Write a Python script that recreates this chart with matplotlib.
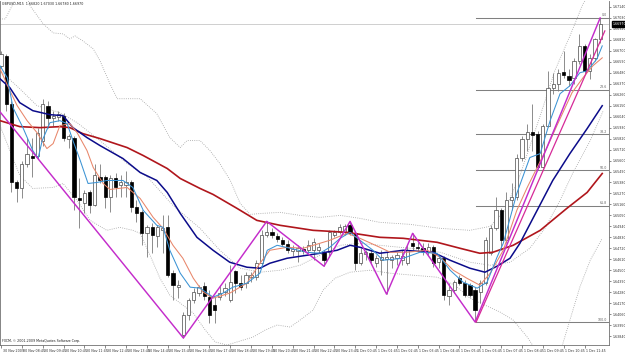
import matplotlib
matplotlib.use("Agg")
import matplotlib.pyplot as plt
import matplotlib.transforms as mtransforms
import numpy as np

# GBPUSD M15 candles
OPEN = [
    1.6655, 1.6665, 1.6617, 1.6538, 1.6532, 1.6557, 1.6565, 1.6565, 1.6580, 1.6615,
    1.6603, 1.6604, 1.6605, 1.6582, 1.6583, 1.6522, 1.6517, 1.6528, 1.6515, 1.6543,
    1.6543, 1.6523, 1.6542, 1.6535, 1.6535, 1.6538, 1.6513, 1.6508, 1.6487, 1.6493,
    1.6484, 1.6490, 1.6493, 1.6447, 1.6433, 1.6385, 1.6405, 1.6420, 1.6427, 1.6434,
    1.6423, 1.6415, 1.6423, 1.6428, 1.6420, 1.6449, 1.6437, 1.6437, 1.6443, 1.6443,
    1.6457, 1.6485, 1.6488, 1.6484, 1.6480, 1.6476, 1.6469, 1.6469, 1.6471, 1.6470,
    1.6470, 1.6470, 1.6468, 1.6468, 1.6485, 1.6488, 1.6488, 1.6495, 1.6487, 1.6457,
    1.6466, 1.6467, 1.6457, 1.6460, 1.6461, 1.6460, 1.6462, 1.6460, 1.6457, 1.6477,
    1.6473, 1.6472, 1.6468, 1.6473, 1.6458, 1.6462, 1.6424, 1.6430, 1.6442, 1.6437,
    1.6435, 1.6430, 1.6428, 1.6437, 1.6467, 1.6492, 1.6510, 1.6480, 1.6520, 1.6523,
    1.6563, 1.6582, 1.6589, 1.6587, 1.6554, 1.6595, 1.6633, 1.6637, 1.6649, 1.6645,
    1.6643, 1.6660, 1.6675, 1.6650, 1.6663, 1.6682,
]
HIGH = [
    1.6670, 1.6667, 1.6620, 1.6540, 1.6560, 1.6583, 1.6583, 1.6593, 1.6622, 1.6620,
    1.6610, 1.6610, 1.6608, 1.6587, 1.6585, 1.6542, 1.6530, 1.6530, 1.6557, 1.6557,
    1.6545, 1.6545, 1.6548, 1.6545, 1.6550, 1.6540, 1.6520, 1.6510, 1.6495, 1.6497,
    1.6495, 1.6505, 1.6505, 1.6450, 1.6440, 1.6408, 1.6422, 1.6432, 1.6435, 1.6438,
    1.6430, 1.6423, 1.6435, 1.6437, 1.6455, 1.6450, 1.6445, 1.6448, 1.6448, 1.6460,
    1.6490, 1.6499, 1.6492, 1.6487, 1.6483, 1.6480, 1.6475, 1.6475, 1.6474, 1.6480,
    1.6482, 1.6477, 1.6470, 1.6490, 1.6490, 1.6496, 1.6496, 1.6499, 1.6488, 1.6472,
    1.6470, 1.6470, 1.6465, 1.6470, 1.6468, 1.6465, 1.6468, 1.6470, 1.6475, 1.6487,
    1.6478, 1.6477, 1.6477, 1.6475, 1.6465, 1.6464, 1.6437, 1.6440, 1.6445, 1.6440,
    1.6437, 1.6433, 1.6440, 1.6483, 1.6495, 1.6523, 1.6512, 1.6528, 1.6537, 1.6567,
    1.6585, 1.6597, 1.6617, 1.6590, 1.6597, 1.6650, 1.6648, 1.6652, 1.6670, 1.6652,
    1.6663, 1.6687, 1.6677, 1.6667, 1.6683, 1.6703,
]
LOW = [
    1.6653, 1.6610, 1.6528, 1.6518, 1.6522, 1.6554, 1.6543, 1.6562, 1.6575, 1.6593,
    1.6595, 1.6600, 1.6580, 1.6573, 1.6510, 1.6492, 1.6507, 1.6507, 1.6514, 1.6537,
    1.6512, 1.6508, 1.6523, 1.6523, 1.6523, 1.6508, 1.6498, 1.6475, 1.6463, 1.6467,
    1.6473, 1.6467, 1.6443, 1.6420, 1.6422, 1.6382, 1.6400, 1.6417, 1.6424, 1.6420,
    1.6397, 1.6397, 1.6420, 1.6424, 1.6418, 1.6427, 1.6430, 1.6432, 1.6438, 1.6440,
    1.6455, 1.6483, 1.6482, 1.6478, 1.6474, 1.6467, 1.6464, 1.6458, 1.6466, 1.6467,
    1.6460, 1.6467, 1.6454, 1.6463, 1.6483, 1.6486, 1.6485, 1.6485, 1.6450, 1.6455,
    1.6460, 1.6457, 1.6453, 1.6445, 1.6426, 1.6452, 1.6455, 1.6455, 1.6455, 1.6470,
    1.6468, 1.6465, 1.6465, 1.6453, 1.6452, 1.6420, 1.6415, 1.6427, 1.6435, 1.6423,
    1.6423, 1.6398, 1.6417, 1.6435, 1.6465, 1.6490, 1.6470, 1.6477, 1.6510, 1.6520,
    1.6560, 1.6570, 1.6570, 1.6552, 1.6553, 1.6594, 1.6627, 1.6630, 1.6643, 1.6635,
    1.6637, 1.6657, 1.6647, 1.6642, 1.6660, 1.6678,
]
CLOSE = [
    1.6667, 1.6617, 1.6538, 1.6532, 1.6557, 1.6567, 1.6563, 1.6588, 1.6617, 1.6603,
    1.6605, 1.6607, 1.6583, 1.6585, 1.6523, 1.6520, 1.6527, 1.6515, 1.6545, 1.6540,
    1.6523, 1.6542, 1.6533, 1.6538, 1.6538, 1.6513, 1.6507, 1.6487, 1.6493, 1.6485,
    1.6493, 1.6492, 1.6445, 1.6435, 1.6435, 1.6405, 1.6420, 1.6428, 1.6433, 1.6424,
    1.6405, 1.6410, 1.6427, 1.6432, 1.6438, 1.6437, 1.6433, 1.6445, 1.6445, 1.6457,
    1.6485, 1.6488, 1.6485, 1.6481, 1.6476, 1.6470, 1.6471, 1.6472, 1.6469, 1.6475,
    1.6478, 1.6473, 1.6460, 1.6488, 1.6488, 1.6493, 1.6494, 1.6487, 1.6457, 1.6467,
    1.6468, 1.6460, 1.6462, 1.6463, 1.6463, 1.6463, 1.6465, 1.6464, 1.6470, 1.6474,
    1.6472, 1.6470, 1.6473, 1.6457, 1.6462, 1.6425, 1.6430, 1.6438, 1.6437, 1.6425,
    1.6425, 1.6410, 1.6437, 1.6480, 1.6492, 1.6510, 1.6480, 1.6520, 1.6523, 1.6563,
    1.6582, 1.6589, 1.6586, 1.6554, 1.6595, 1.6633, 1.6637, 1.6648, 1.6646, 1.6641,
    1.6660, 1.6675, 1.6650, 1.6663, 1.6682, 1.6697,
]

TIME_LABELS = [
    "30 Nov 2009", "30 Nov 08:45", "30 Nov 09:45", "30 Nov 10:45", "30 Nov 11:45",
    "30 Nov 12:45", "30 Nov 13:45", "30 Nov 14:45", "30 Nov 15:45", "30 Nov 16:45",
    "30 Nov 17:45", "30 Nov 18:45", "30 Nov 19:45", "30 Nov 20:45", "30 Nov 21:45",
    "30 Nov 22:45", "30 Nov 23:45", "1 Dec 00:45", "1 Dec 01:45", "1 Dec 02:45",
    "1 Dec 03:45", "1 Dec 04:45", "1 Dec 05:45", "1 Dec 06:45", "1 Dec 07:45",
    "1 Dec 08:45", "1 Dec 09:45", "1 Dec 10:45", "1 Dec 11:45",
]

# indicator lines as (bar, price) pairs
EMA_FAST = [
    (-0.2, 1.6655), (1.2, 1.6643), (2.3, 1.6613), (4.2, 1.6593), (6.1, 1.6570), (7.1, 1.6562),
    (7.9, 1.6580), (9.4, 1.6598), (11.3, 1.6600), (12.7, 1.6597), (13.8, 1.6580), (15.2, 1.6560),
    (16.7, 1.6537), (18.4, 1.6538), (20.3, 1.6540), (23.4, 1.6540), (25.3, 1.6533), (27.3, 1.6510),
    (29.9, 1.6495), (31.1, 1.6493), (32.4, 1.6470), (34.4, 1.6447), (36.3, 1.6433), (38.2, 1.6432),
    (40.7, 1.6423), (42.6, 1.6427), (44.5, 1.6433), (47.2, 1.6437), (49.7, 1.6447), (51.1, 1.6470),
    (53.0, 1.6475), (55.5, 1.6472), (58.7, 1.6468), (61.2, 1.6467), (63.1, 1.6473), (65.1, 1.6482),
    (67.0, 1.6488), (68.9, 1.6480), (71.4, 1.6470), (73.3, 1.6460), (77.2, 1.6462), (80.4, 1.6468),
    (83.7, 1.6467), (86.2, 1.6450), (88.7, 1.6438), (91.4, 1.6432), (93.3, 1.6438), (95.2, 1.6463),
    (96.4, 1.6477), (99.0, 1.6527), (101.5, 1.6563), (103.5, 1.6567), (105.4, 1.6600), (107.3, 1.6627),
    (109.2, 1.6635), (111.1, 1.6648), (112.5, 1.6650), (114.4, 1.6662), (115.4, 1.6675),
]
EMA_MID = [
    (-0.2, 1.6652), (1.7, 1.6630), (3.1, 1.6615), (5.0, 1.6600), (6.9, 1.6588), (8.8, 1.6572),
    (10.0, 1.6577), (11.3, 1.6595), (13.2, 1.6597), (14.6, 1.6588), (16.5, 1.6570), (17.7, 1.6553),
    (19.6, 1.6537), (20.9, 1.6531), (24.2, 1.6533), (26.7, 1.6522), (29.2, 1.6503), (31.1, 1.6492),
    (33.0, 1.6475), (34.9, 1.6462), (36.9, 1.6442), (38.8, 1.6428), (40.7, 1.6422), (43.9, 1.6427),
    (47.2, 1.6437), (49.7, 1.6457), (51.6, 1.6470), (54.9, 1.6473), (58.0, 1.6472), (61.2, 1.6477),
    (63.1, 1.6480), (66.4, 1.6487), (68.9, 1.6482), (72.7, 1.6473), (74.7, 1.6468), (77.9, 1.6468),
    (81.8, 1.6470), (84.3, 1.6463), (86.8, 1.6450), (89.4, 1.6442), (91.9, 1.6435), (93.9, 1.6447),
    (96.4, 1.6470), (99.0, 1.6510), (101.0, 1.6533), (102.9, 1.6553), (104.8, 1.6573), (106.7, 1.6595),
    (109.6, 1.6628), (111.7, 1.6643), (113.6, 1.6655), (115.4, 1.6663),
]
EMA_SLOW = [
    (-0.2, 1.6642), (1.7, 1.6633), (3.6, 1.6618), (6.1, 1.6610), (9.4, 1.6606), (11.9, 1.6605),
    (13.8, 1.6593), (16.5, 1.6583), (19.0, 1.6575), (23.4, 1.6562), (26.7, 1.6548), (29.9, 1.6540),
    (31.9, 1.6528), (34.4, 1.6507), (37.6, 1.6483), (40.7, 1.6470), (43.9, 1.6458), (47.2, 1.6453),
    (49.7, 1.6452), (51.6, 1.6457), (54.9, 1.6462), (58.7, 1.6465), (61.2, 1.6467), (64.5, 1.6470),
    (67.0, 1.6475), (68.9, 1.6473), (72.7, 1.6467), (77.2, 1.6470), (82.9, 1.6468), (86.2, 1.6460),
    (90.0, 1.6452), (92.9, 1.6448), (95.2, 1.6454), (97.7, 1.6462), (99.6, 1.6477), (102.9, 1.6510),
    (105.9, 1.6540), (109.2, 1.6567), (112.5, 1.6592), (115.4, 1.6615),
]
EMA_TREND = [
    (-0.2, 1.6600), (3.6, 1.6594), (7.5, 1.6593), (11.3, 1.6594), (13.2, 1.6593), (15.7, 1.6587),
    (19.0, 1.6582), (24.2, 1.6573), (27.3, 1.6565), (31.9, 1.6552), (34.4, 1.6542), (38.2, 1.6532),
    (40.7, 1.6526), (45.3, 1.6512), (49.1, 1.6500), (53.6, 1.6495), (59.9, 1.6490), (66.4, 1.6488),
    (72.7, 1.6483), (77.2, 1.6482), (83.7, 1.6478), (88.1, 1.6472), (91.9, 1.6467), (94.4, 1.6468),
    (98.3, 1.6475), (103.5, 1.6490), (108.6, 1.6512), (112.5, 1.6528), (115.4, 1.6547),
]
BAND_UPPER = [
    (-0.2, 1.6702), (0.8, 1.6702), (2.3, 1.6717), (3.6, 1.6728), (4.8, 1.6726), (5.6, 1.6715),
    (8.1, 1.6697), (10.0, 1.6688), (11.9, 1.6687), (13.2, 1.6682), (14.2, 1.6685), (15.7, 1.6680),
    (17.7, 1.6672), (19.0, 1.6660), (20.9, 1.6637), (22.3, 1.6622), (26.7, 1.6622), (29.9, 1.6607),
    (32.4, 1.6583), (34.4, 1.6573), (35.7, 1.6580), (38.2, 1.6580), (40.1, 1.6570), (42.0, 1.6557),
    (44.0, 1.6540), (45.9, 1.6517), (47.8, 1.6506), (50.1, 1.6507), (53.6, 1.6508), (57.4, 1.6505),
    (61.2, 1.6503), (65.1, 1.6505), (68.9, 1.6502), (72.7, 1.6498), (78.5, 1.6496), (84.3, 1.6492),
    (90.0, 1.6490), (93.9, 1.6494), (96.7, 1.6510), (99.6, 1.6545), (103.5, 1.6605), (106.3, 1.6650),
    (109.2, 1.6685), (111.7, 1.6717), (114.0, 1.6735),
]
BAND_MIDDLE = [
    (-0.2, 1.6650), (3.6, 1.6632), (6.9, 1.6615), (11.3, 1.6608), (14.6, 1.6598), (19.0, 1.6580),
    (24.2, 1.6557), (28.0, 1.6544), (33.0, 1.6515), (38.2, 1.6492), (42.0, 1.6470), (45.9, 1.6452),
    (49.7, 1.6448), (53.6, 1.6450), (57.4, 1.6455), (61.2, 1.6465), (65.1, 1.6475), (68.9, 1.6477),
    (72.7, 1.6475), (78.5, 1.6472), (84.3, 1.6468), (90.0, 1.6458), (93.9, 1.6455), (97.7, 1.6458),
    (101.5, 1.6472), (104.4, 1.6492), (107.3, 1.6520), (109.8, 1.6548), (113.1, 1.6580), (115.6, 1.6610),
]
BAND_LOWER = [
    (-0.2, 1.6595), (1.7, 1.6570), (3.6, 1.6545), (6.1, 1.6532), (10.0, 1.6533), (11.9, 1.6537),
    (14.6, 1.6520), (17.1, 1.6500), (20.3, 1.6490), (22.8, 1.6493), (25.3, 1.6490), (26.7, 1.6487),
    (28.6, 1.6465), (30.5, 1.6442), (32.4, 1.6425), (34.9, 1.6415), (36.9, 1.6407), (39.2, 1.6390),
    (41.1, 1.6378), (43.4, 1.6375), (45.9, 1.6379), (48.4, 1.6383), (50.7, 1.6390), (53.0, 1.6395),
    (55.5, 1.6393), (57.4, 1.6400), (59.9, 1.6410), (61.8, 1.6430), (64.1, 1.6442), (67.0, 1.6448),
    (70.8, 1.6450), (74.7, 1.6447), (79.1, 1.6445), (83.7, 1.6443), (87.1, 1.6435), (90.0, 1.6422),
    (92.9, 1.6415), (95.8, 1.6408), (98.3, 1.6400), (101.0, 1.6383), (102.9, 1.6368), (105.4, 1.6358),
    (107.3, 1.6367), (109.2, 1.6400), (111.1, 1.6433), (113.1, 1.6460), (115.4, 1.6482),
]
ZIGZAG = [
    (-1, 1.6614), (35, 1.6382), (51, 1.6499), (62, 1.6454), (67, 1.6499),
    (74, 1.6426), (79, 1.6487), (91, 1.6398), (115, 1.6703),
]
TREND_LINE = [(91.2, 1.6398), (115.9, 1.6690)]

FIB_HIGH = 1.6703
FIB_LOW = 1.6398
FIB_START_BAR = 91.2
FIB_LEVELS = [0.0, 23.6, 38.2, 50.0, 61.8, 100.0]

TITLE = "GBPUSD,M15  1.66820 1.67030 1.66780 1.66970"
COPYRIGHT = "FXCM, \u00a9 2001-2009 MetaQuotes Software Corp."

TEXT_SIZE = 2.3
DOTTED = (0, (1, 1.6))


def draw_line(ax, points, **kw):
    xs, ys = zip(*points)
    ax.plot(xs, ys, **kw)


fig = plt.figure(figsize=(6.25, 3.54), dpi=100)
fig.patch.set_facecolor("white")
ax = fig.add_axes([0.0, 9 / 354, 609 / 625, 344 / 354])

o, h, l, c = (np.array(v) for v in (OPEN, HIGH, LOW, CLOSE))
bars = np.arange(len(o))
up = c >= o
body_lo = np.minimum(o, c)
body_h = np.maximum(np.abs(c - o), 0.00003)

# price line
ax.axhline(c[-1], color="#c8c8c8", lw=0.6, zorder=1)

# bollinger bands
for band in (BAND_UPPER, BAND_MIDDLE, BAND_LOWER):
    draw_line(ax, band, color="#a0a0a0", lw=0.6, ls=DOTTED, zorder=1.5)

# fibonacci retracement
for lvl in FIB_LEVELS:
    price = FIB_HIGH - lvl / 100 * (FIB_HIGH - FIB_LOW)
    ax.plot([FIB_START_BAR, 116.7], [price, price], color="#808080", lw=0.75, zorder=1.6)
    ax.text(116.3, price + 0.00005, f"{lvl:.1f}", fontsize=TEXT_SIZE, color="#606060",
            ha="right", va="bottom", zorder=6)

# candles
ax.vlines(bars, l, h, color="#7a7a7a", lw=0.6, zorder=2)
ax.bar(bars[up], body_h[up], bottom=body_lo[up], width=0.62, color="white",
       edgecolor="#4a4a4a", lw=0.5, zorder=3)
ax.bar(bars[~up], body_h[~up], bottom=body_lo[~up], width=0.62, color="black",
       edgecolor="black", lw=0.5, zorder=3)

# moving averages
draw_line(ax, EMA_TREND, color="#b0161c", lw=1.2, zorder=4)
draw_line(ax, EMA_SLOW, color="#0b0b8a", lw=1.1, zorder=4)
draw_line(ax, EMA_MID, color="#e8866a", lw=0.75, zorder=4)
draw_line(ax, EMA_FAST, color="#3b93d4", lw=0.75, zorder=4)

# zigzag and trend line
draw_line(ax, ZIGZAG, color="#c42ccb", lw=1.05, zorder=5)
draw_line(ax, TREND_LINE, color="#d62a98", lw=0.9, zorder=5)

ax.set_xlim(-0.2, 116.7)
ax.set_ylim(1.6375, 1.6720)

# right price scale
ax.yaxis.tick_right()
price_ticks = np.arange(1.6714, 1.6376, -0.0011)
ax.set_yticks(price_ticks)
ax.set_yticklabels([f"{p:.5f}" for p in price_ticks])
ax.tick_params(axis="y", labelsize=TEXT_SIZE, length=1.5, width=0.4, pad=1,
               colors="#303030")

# time scale
ax.set_xticks(np.arange(0, 4 * len(TIME_LABELS), 4))
ax.set_xticklabels(TIME_LABELS)
ax.tick_params(axis="x", labelsize=TEXT_SIZE, length=2, width=0.4, pad=0.8,
               colors="#303030")
shift = mtransforms.ScaledTranslation(1.5 / 100, 0, fig.dpi_scale_trans)
for lab in ax.get_xticklabels():
    lab.set_horizontalalignment("left")
    lab.set_transform(lab.get_transform() + shift)

for side, sp in ax.spines.items():
    sp.set_color("#707070")
    sp.set_linewidth(0.6)
ax.spines["top"].set_visible(False)

# current price marker
ax.annotate(f"{c[-1]:.5f}", xy=(1.0, c[-1]), xycoords=("axes fraction", "data"),
            xytext=(2.5, 0), textcoords="offset points", ha="left", va="center",
            fontsize=TEXT_SIZE, color="white", annotation_clip=False,
            bbox=dict(boxstyle="square,pad=0.25", fc="black", ec="black"))

ax.text(0.004, 0.996, TITLE, transform=ax.transAxes, ha="left", va="top",
        fontsize=TEXT_SIZE, color="#202020")
ax.text(0.004, 0.006, COPYRIGHT, transform=ax.transAxes, ha="left", va="bottom",
        fontsize=TEXT_SIZE, color="#202020")

fig.savefig("out.png", dpi=100, facecolor="white")
plt.close(fig)
